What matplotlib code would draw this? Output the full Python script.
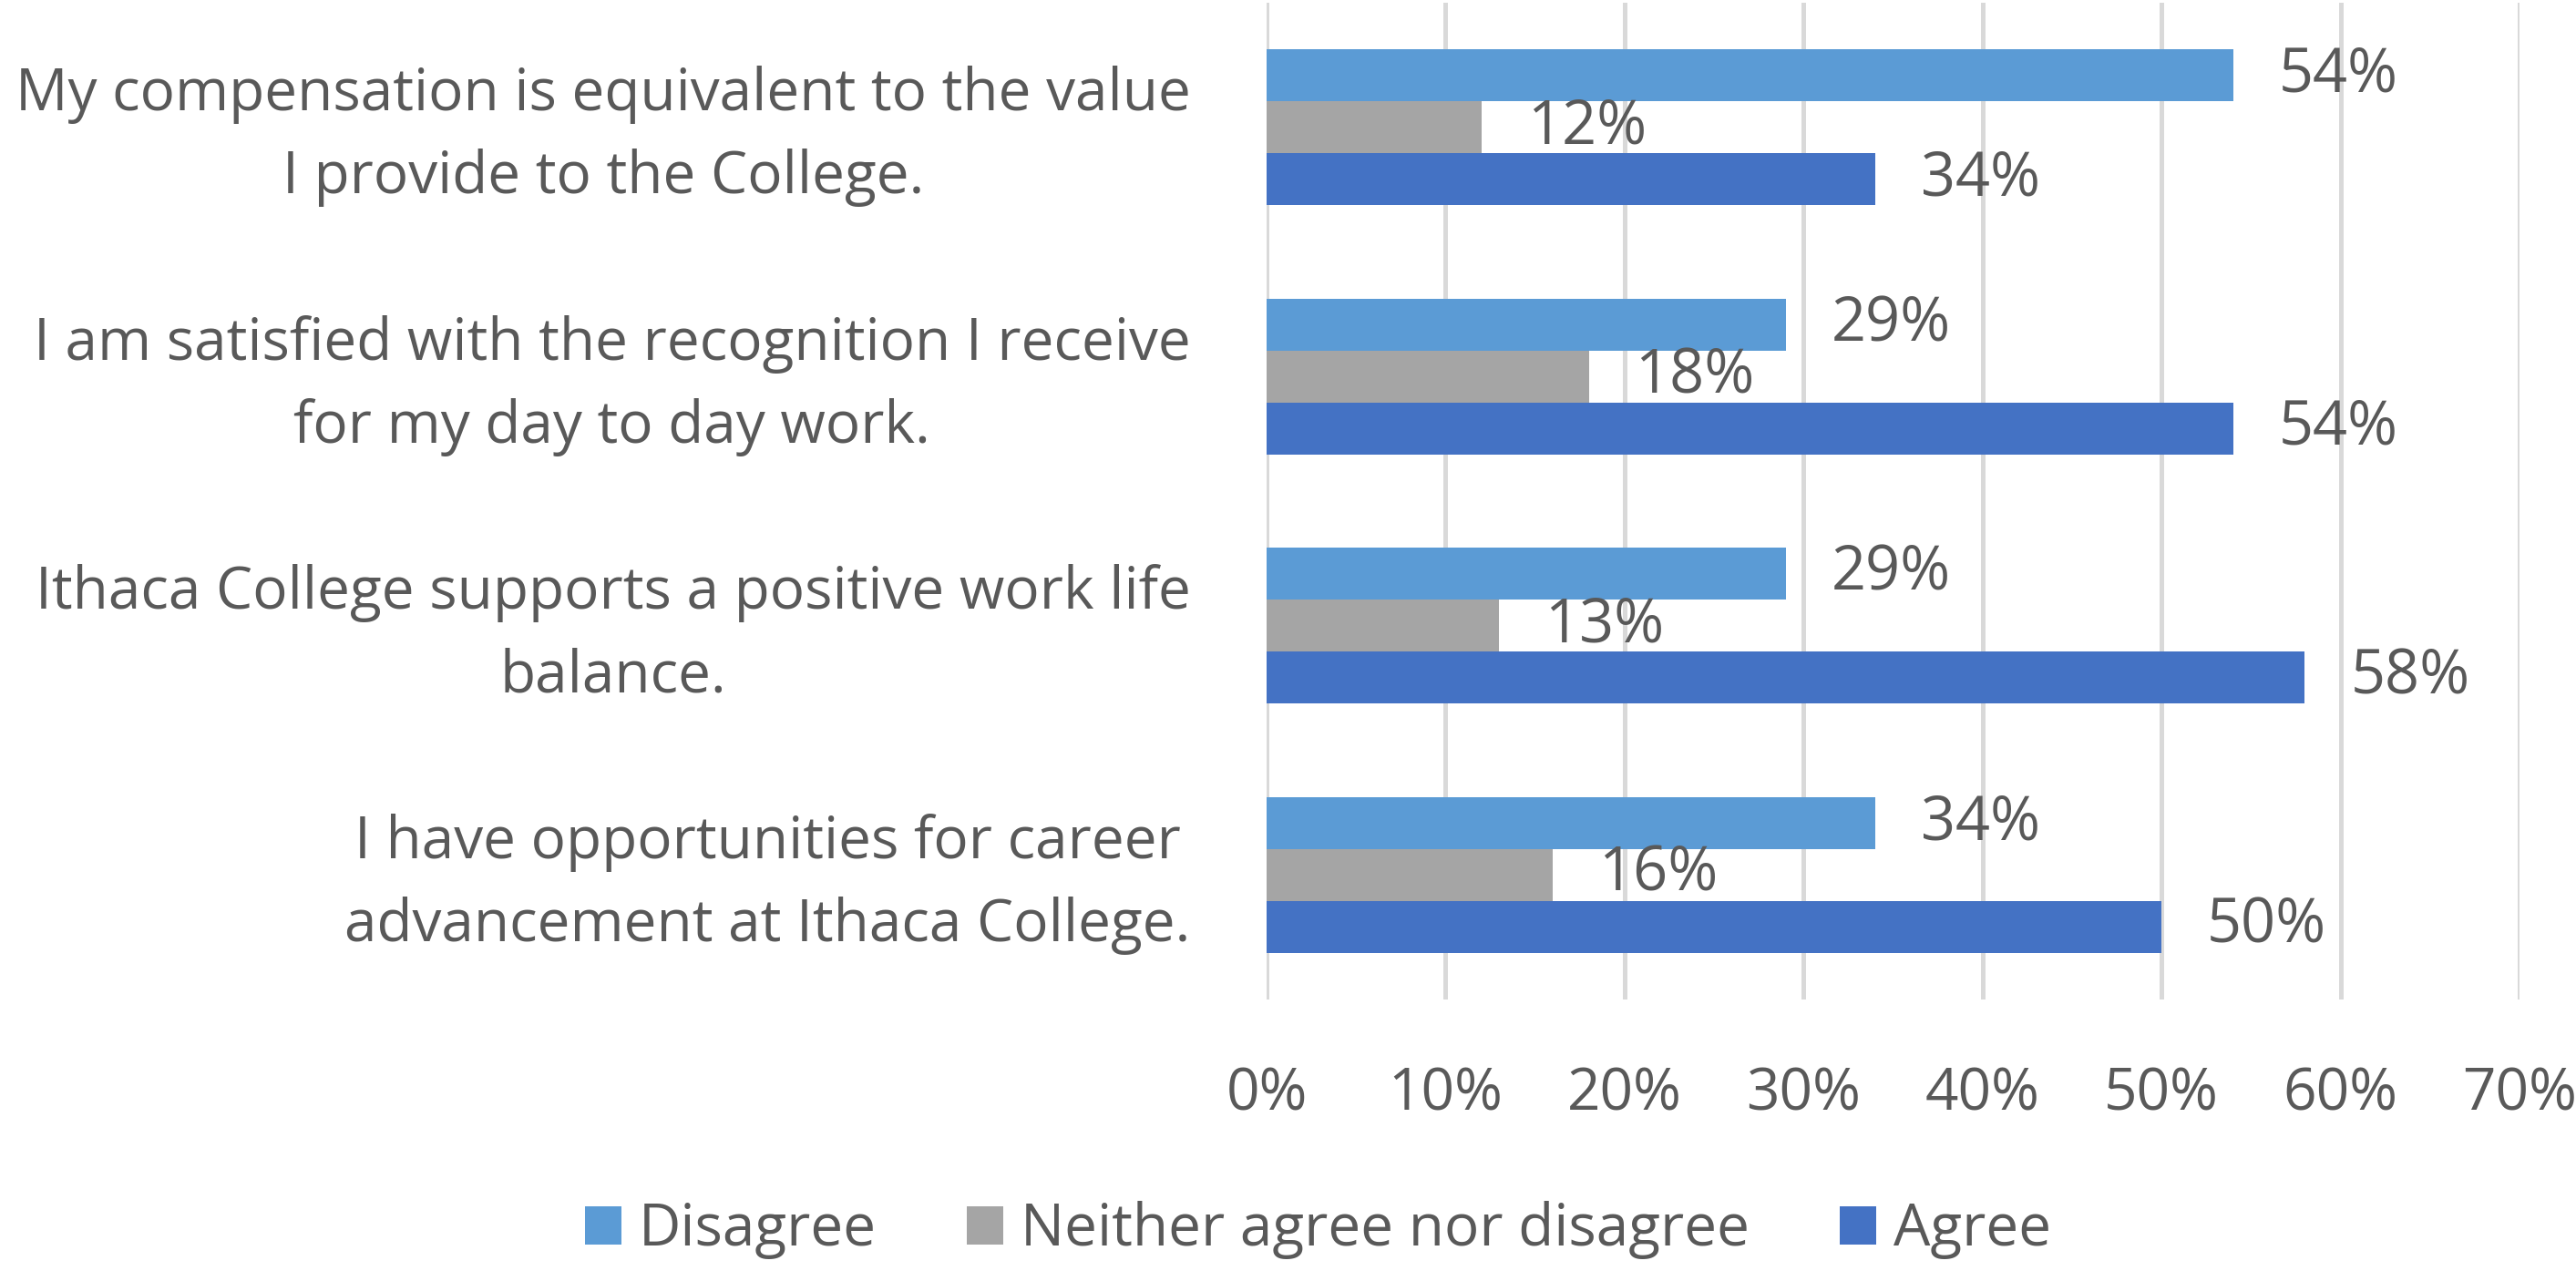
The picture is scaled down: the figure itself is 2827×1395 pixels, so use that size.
import matplotlib
matplotlib.use("Agg")
import matplotlib.pyplot as plt
import matplotlib.transforms as mtransforms
import numpy as np

categories = [
    "My compensation is equivalent to the value\nI provide to the College.",
    "I am satisfied with the recognition I receive\nfor my day to day work.",
    "Ithaca College supports a positive work life\nbalance.",
    "I have opportunities for career\nadvancement at Ithaca College.",
]
series_names = ["Disagree", "Neither agree nor disagree", "Agree"]
disagree = [54, 29, 29, 34]
neither = [12, 18, 13, 16]
agree = [34, 54, 58, 50]
colors = ["#5B9BD5", "#A5A5A5", "#4472C4"]
xticks = [0, 10, 20, 30, 40, 50, 60, 70]

plt.rcParams['font.family'] = ['Open Sans', 'DejaVu Sans']
TXT = "#595959"
FS = 46

fig = plt.figure(figsize=(28.27, 13.95), dpi=100)
ax = fig.add_axes([1390/2827, 1 - 1097/1395, (2765-1390)/2827, (1097-3)/1395])

y = np.arange(len(categories))
h = 0.208
for k, (vals, name, c) in enumerate(zip([disagree, neither, agree], series_names, colors)):
    cont = ax.barh(y + (k - 1) * h, vals, height=h, color=c, label=name, zorder=3)
    ax.bar_label(cont, labels=[f"{v}%" for v in vals], padding=36, fontsize=48, color=TXT)

ax.set_xlim(0, 70)
ax.set_ylim(len(categories) - 0.5, -0.5)
ax.set_xticks(xticks)
ax.set_xticklabels([f"{t}%" for t in xticks], fontsize=FS, color=TXT)
ax.set_yticks(y)
ax.set_yticklabels(categories, fontsize=FS, color=TXT, ha='right', multialignment='center', linespacing=1.55)
ax.tick_params(axis='both', length=0)
ax.tick_params(axis='x', pad=52)
ax.tick_params(axis='y', pad=60)
ax.grid(axis='x', color='#D9D9D9', linewidth=3.6, zorder=0)
for s in ax.spines.values():
    s.set_visible(False)

offset = mtransforms.ScaledTranslation(0, 11 / 100, fig.dpi_scale_trans)
for lbl in ax.get_yticklabels():
    lbl.set_transform(lbl.get_transform() + offset)

fig.legend(loc='center', bbox_to_anchor=(0.5117, 0.032), ncol=3, frameon=False,
           fontsize=FS, labelcolor=TXT, handlelength=0.62, handleheight=0.62,
           handletextpad=0.3, columnspacing=1.55)

fig.savefig("out.png", dpi=100)
